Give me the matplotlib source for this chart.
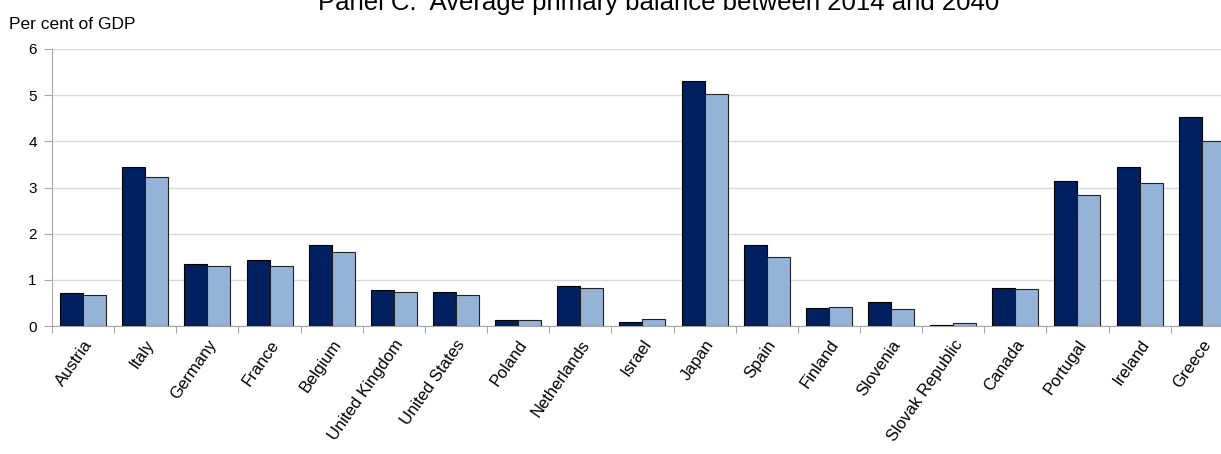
import matplotlib

matplotlib.use("Agg")
import matplotlib.pyplot as plt
import numpy as np

countries = ["Austria", "Italy", "Germany", "France", "Belgium", "United Kingdom",
             "United States", "Poland", "Netherlands", "Israel", "Japan", "Spain",
             "Finland", "Slovenia", "Slovak Republic", "Canada", "Portugal",
             "Ireland", "Greece"]
series_a = [0.71, 3.45, 1.34, 1.44, 1.75, 0.79, 0.73, 0.13, 0.86, 0.09, 5.31, 1.75,
            0.40, 0.51, 0.03, 0.82, 3.14, 3.45, 4.52]
series_b = [0.68, 3.22, 1.31, 1.31, 1.61, 0.74, 0.68, 0.14, 0.82, 0.16, 5.02, 1.49,
            0.41, 0.36, 0.07, 0.80, 2.83, 3.10, 4.01]

W, H = 1221, 454
FONT = ["Liberation Sans", "DejaVu Sans"]
fig = plt.figure(figsize=(W / 100, H / 100), dpi=100)
ax = fig.add_axes([52 / W, 1 - 326 / H, 1 - 52 / W, (326 - 49) / H])

x = np.arange(len(countries))
bw = 0.37
ax.bar(x - bw / 2, series_a, bw, color="#002060", edgecolor="black", linewidth=0.8, zorder=3)
ax.bar(x + bw / 2, series_b, bw, color="#95b3d7", edgecolor="#222222", linewidth=0.8, zorder=3)

ax.set_yticks(range(7))
ax.yaxis.grid(True, color="#d9d9d9", linewidth=1, zorder=0)
ax.tick_params(axis="y", labelsize=11, length=6, color="#a6a6a6", pad=5)

# category boundaries as ticks, labels at centres
ax.set_xticks(np.arange(-0.5, len(countries)), minor=False)
ax.set_xticklabels([])
ax.set_xticks(x, minor=True)
ax.set_xticklabels(countries, minor=True, rotation=55, ha="right",
                   rotation_mode="anchor", fontsize=12)
ax.tick_params(axis="x", which="major", length=5, color="#a6a6a6")
ax.tick_params(axis="x", which="minor", length=0, pad=8)

# axis runs past the right edge, as in the source (Greece is clipped)
ax.set_ylim(0, 6)
ax.set_xlim(-0.5, -0.5 + (W - 52) / 62.15)

for s in ["top", "right"]:
    ax.spines[s].set_visible(False)
for s in ["left", "bottom"]:
    ax.spines[s].set_color("#a6a6a6")

fig.text(9 / W, 1 - 29 / H, "Per cent of GDP", fontsize=12.5, va="baseline", ha="left")
fig.text(659 / W, 1 - 10 / H, "Panel C.  Average primary balance between 2014 and 2040",
         fontsize=18.5, va="baseline", ha="center")

for lbl in ax.get_xticklabels(minor=True) + ax.get_yticklabels():
    lbl.set_family(FONT)
for t in fig.texts:
    t.set_family(FONT)

fig.savefig("out.png", dpi=100)
